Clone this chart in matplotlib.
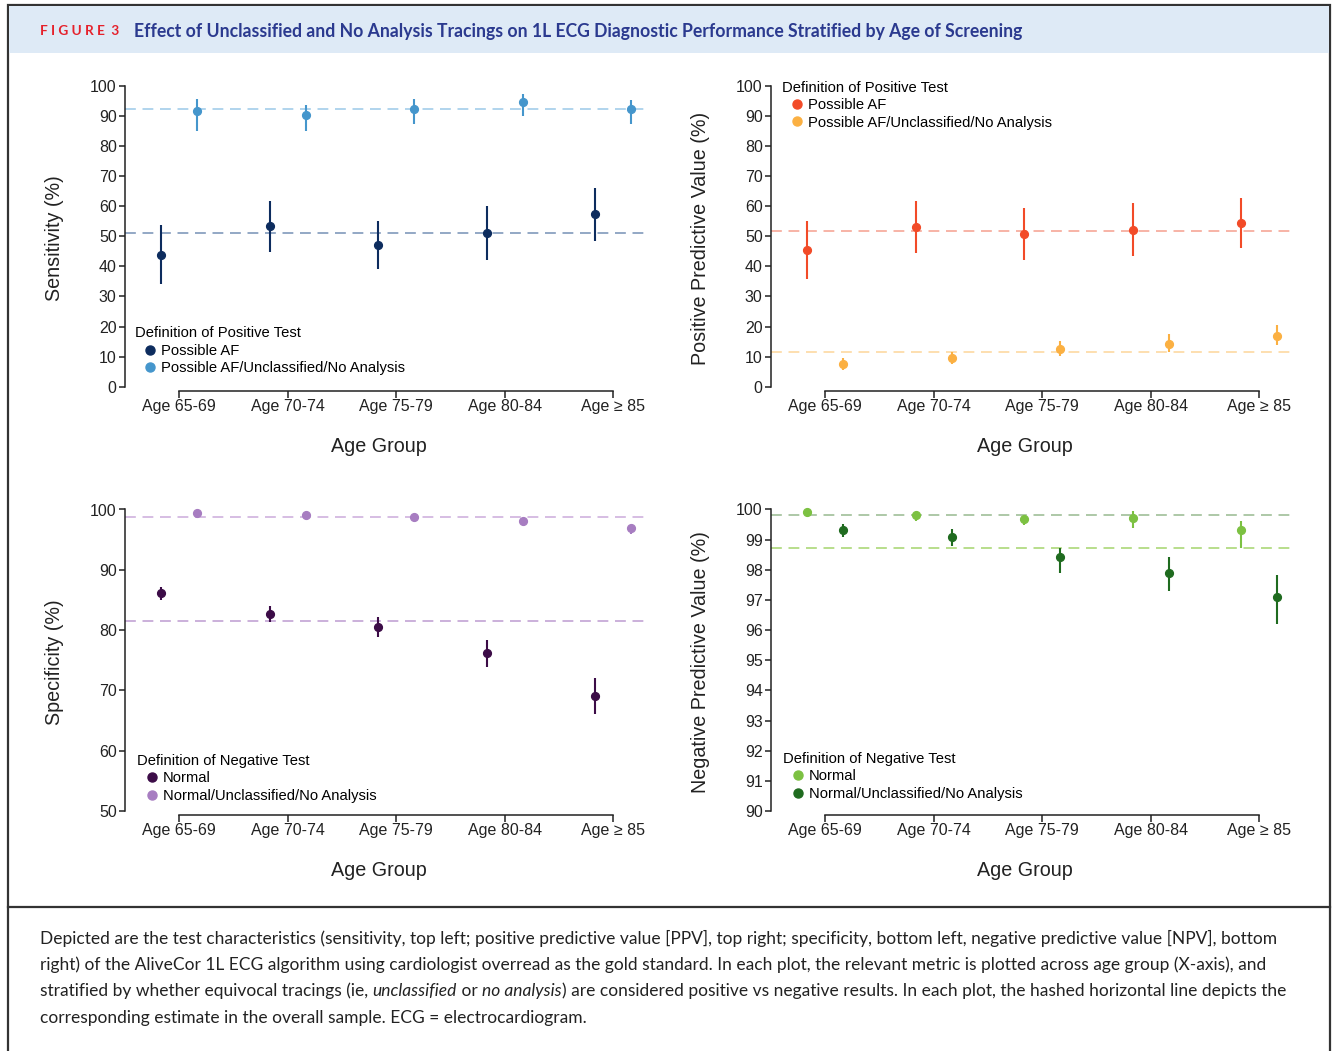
import matplotlib.pyplot as plt
import numpy as np
from matplotlib.lines import Line2D
from matplotlib.patches import Rectangle

W, H = 1336, 1051

age_groups = ["Age 65-69", "Age 70-74", "Age 75-79", "Age 80-84", "Age \u2265 85"]

# sensitivity (%)
sens_af = [43.8, 53.3, 47.0, 51.2, 57.5]
sens_af_lo = [34.1, 44.8, 39.0, 42.2, 48.5]
sens_af_hi = [53.9, 61.7, 55.2, 60.2, 66.2]
sens_all = [91.8, 90.2, 92.4, 94.7, 92.3]
sens_all_lo = [85.2, 84.9, 87.4, 90.0, 87.2]
sens_all_hi = [95.7, 93.8, 95.7, 97.5, 95.5]
sens_overall = [51.0, 92.3]

# positive predictive value (%)
ppv_af = [45.3, 53.1, 50.9, 52.2, 54.6]
ppv_af_lo = [35.9, 44.4, 42.1, 43.4, 46.1]
ppv_af_hi = [55.0, 61.6, 59.4, 61.0, 62.9]
ppv_all = [7.5, 9.5, 12.7, 14.3, 16.9]
ppv_all_lo = [5.6, 7.6, 10.3, 11.5, 13.8]
ppv_all_hi = [9.6, 11.6, 15.3, 17.4, 20.4]
ppv_overall = [51.7, 11.6]

# specificity (%)
spec_norm = [86.1, 82.7, 80.5, 76.2, 69.1]
spec_norm_lo = [84.9, 81.4, 78.9, 73.8, 66.0]
spec_norm_hi = [87.2, 84.0, 82.1, 78.4, 72.0]
spec_all = [99.4, 99.1, 98.7, 98.1, 96.9]
spec_all_lo = [99.1, 98.8, 98.4, 97.7, 95.9]
spec_all_hi = [99.6, 99.4, 99.0, 98.5, 97.3]
spec_overall = [81.5, 98.8]

# negative predictive value (%)
npv_norm = [99.91, 99.81, 99.70, 99.71, 99.31]
npv_norm_lo = [99.85, 99.61, 99.50, 99.40, 98.71]
npv_norm_hi = [99.97, 99.89, 99.83, 99.94, 99.62]
npv_all = [99.31, 99.10, 98.41, 97.90, 97.10]
npv_all_lo = [99.10, 98.80, 97.90, 97.29, 96.19]
npv_all_hi = [99.52, 99.34, 98.72, 98.42, 97.82]
npv_overall = [99.81, 98.71]

plt.rcParams['font.family'] = ['Liberation Sans', 'DejaVu Sans']

fig = plt.figure(figsize=(W / 100, H / 100), dpi=100)


def fx(px):
    return px / W


def fy(py):
    return 1 - py / H


# frame, header band, caption separator
fig.add_artist(Rectangle((fx(8), -0.02), fx(1330) - fx(8), fy(5) + 0.02, transform=fig.transFigure,
                         facecolor='white', edgecolor='#333333', lw=1.6, zorder=-10))
fig.add_artist(Rectangle((fx(9), fy(53)), fx(1329) - fx(9), fy(6) - fy(53), transform=fig.transFigure,
                         facecolor='#deeaf6', edgecolor='none', zorder=-9))
fig.add_artist(Line2D([fx(8), fx(1330)], [fy(907), fy(907)], transform=fig.transFigure,
                      color='#333333', lw=1.6))

fig.text(fx(40), fy(31), "F I G U R E  3", color='#e5212b', fontsize=9.8, fontweight='bold',
         va='center', ha='left', family=['Lato', 'DejaVu Sans'])
fig.text(fx(134), fy(31), "Effect of Unclassified and No Analysis Tracings on 1L ECG Diagnostic "
         "Performance Stratified by Age of Screening", color='#2b3a8f', fontsize=12.7,
         fontweight='bold', va='center', ha='left', family=['Lato', 'DejaVu Sans'])

cap_font = dict(fontsize=12.55, color='#222222', va='center', ha='left', family=['Lato', 'DejaVu Sans'])
caption = [
    "Depicted are the test characteristics (sensitivity, top left; positive predictive value [PPV], "
    "top right; specificity, bottom left, negative predictive value [NPV], bottom",
    "right) of the AliveCor 1L ECG algorithm using cardiologist overread as the gold standard. In each "
    "plot, the relevant metric is plotted across age group (X-axis), and",
    None,
    "corresponding estimate in the overall sample. ECG = electrocardiogram.",
]
cap_y = [938, 965, 991, 1018]
for line, y in zip(caption, cap_y):
    if line is not None:
        fig.text(fx(40), fy(y), line, **cap_font)

# line 3 has italic words, so it is built in pieces
renderer = fig.canvas.get_renderer()
pieces = [("stratified by whether equivocal tracings (ie, ", 'normal'), ("unclassified", 'italic'),
          (" or ", 'normal'), ("no analysis", 'italic'),
          (") are considered positive vs negative results. In each plot, the hashed horizontal line depicts the",
           'normal')]
xpos = fx(40)
for txt, st in pieces:
    t = fig.text(xpos, fy(cap_y[2]), txt, style=st, **cap_font)
    bb = t.get_window_extent(renderer=renderer)
    xpos = bb.x1 / W

x = np.arange(1, 6)
dx = 0.167


def panel(rect, series, overall, overall_colors, ylim, yticks, ylabel, leg_title, leg_xy):
    ax = fig.add_axes(rect)
    for label, est, lo, hi, color, off in series:
        est = np.array(est)
        err = [est - np.array(lo), np.array(hi) - est]
        ax.errorbar(x + off, est, yerr=err, fmt='o', color=color, ms=5.6, elinewidth=1.5,
                    capsize=0, clip_on=False, zorder=3)
    for val, c in zip(overall, overall_colors):
        ax.axhline(val, color=c, ls=(0, (6.5, 4)), lw=1.2, zorder=1)
    ax.set_xlim(0.5, 5.32)
    ax.set_ylim(*ylim)
    ax.set_yticks(yticks)
    ax.set_xticks(x)
    ax.set_xticklabels(age_groups)
    for s in ['top', 'right']:
        ax.spines[s].set_visible(False)
    ax.spines['left'].set_bounds(yticks[0], yticks[-1])
    ax.spines['bottom'].set_bounds(1, 5)
    for s in ['left', 'bottom']:
        ax.spines[s].set_linewidth(1.1)
        ax.spines[s].set_color('#222222')
    ax.tick_params(axis='y', length=4, width=1.1, pad=2, labelsize=11.5, colors='#222222')
    ax.tick_params(axis='x', length=5, width=1.1, pad=1, labelsize=11.5, colors='#222222')
    ax.set_ylabel(ylabel, fontsize=14.2, color='#222222')
    ax.yaxis.set_label_coords(-0.116, 0.5)
    ax.set_xlabel("Age Group", fontsize=14.2, color='#222222')
    ax.xaxis.set_label_coords(0.486, -0.15)
    handles = [Line2D([], [], marker='o', ls='', color=s[4], ms=6.5) for s in series]
    labels = [s[0] for s in series]
    ax.legend(handles, labels, title=leg_title, loc='upper left', bbox_to_anchor=leg_xy,
              frameon=False, fontsize=10.6, title_fontsize=10.6, handlelength=2.1,
              handletextpad=-0.32, labelspacing=0.24, borderpad=0, borderaxespad=0,
              alignment='left')
    return ax


top_h = fy(86) - fy(391)
bot_h = fy(509.5) - fy(815)
w = fx(648) - fx(125)

panel([fx(125), fy(391), w, top_h],
      [("Possible AF", sens_af, sens_af_lo, sens_af_hi, '#0d2c5e', -dx),
       ("Possible AF/Unclassified/No Analysis", sens_all, sens_all_lo, sens_all_hi, '#4596cc', dx)],
      sens_overall, ['#8099bb', '#a3cdea'], (-1.43, 100), np.arange(0, 101, 10),
      "Sensitivity (%)", "Definition of Positive Test", (0.019, 0.212))

panel([fx(771), fy(391), w, top_h],
      [("Possible AF", ppv_af, ppv_af_lo, ppv_af_hi, '#f24b28', -dx),
       ("Possible AF/Unclassified/No Analysis", ppv_all, ppv_all_lo, ppv_all_hi, '#fbb042', dx)],
      ppv_overall, ['#f6a797', '#fdd9a2'], (-1.43, 100), np.arange(0, 101, 10),
      "Positive Predictive Value (%)", "Definition of Positive Test", (0.021, 1.018))

panel([fx(125), fy(815), w, bot_h],
      [("Normal", spec_norm, spec_norm_lo, spec_norm_hi, '#3c0c47', -dx),
       ("Normal/Unclassified/No Analysis", spec_all, spec_all_lo, spec_all_hi, '#a77dc1', dx)],
      spec_overall, ['#c2a3d4', '#cfb2de'], (49.3, 100), np.arange(50, 101, 10),
      "Specificity (%)", "Definition of Negative Test", (0.023, 0.2))

panel([fx(771), fy(815), w, bot_h],
      [("Normal", npv_norm, npv_norm_lo, npv_norm_hi, '#7cc142', -dx),
       ("Normal/Unclassified/No Analysis", npv_all, npv_all_lo, npv_all_hi, '#1f6b1f', dx)],
      npv_overall, ['#a0bf98', '#abd878'], (89.87, 100), np.arange(90, 101, 1),
      "Negative Predictive Value (%)", "Definition of Negative Test", (0.023, 0.207))

fig.savefig("out.png", dpi=100)
